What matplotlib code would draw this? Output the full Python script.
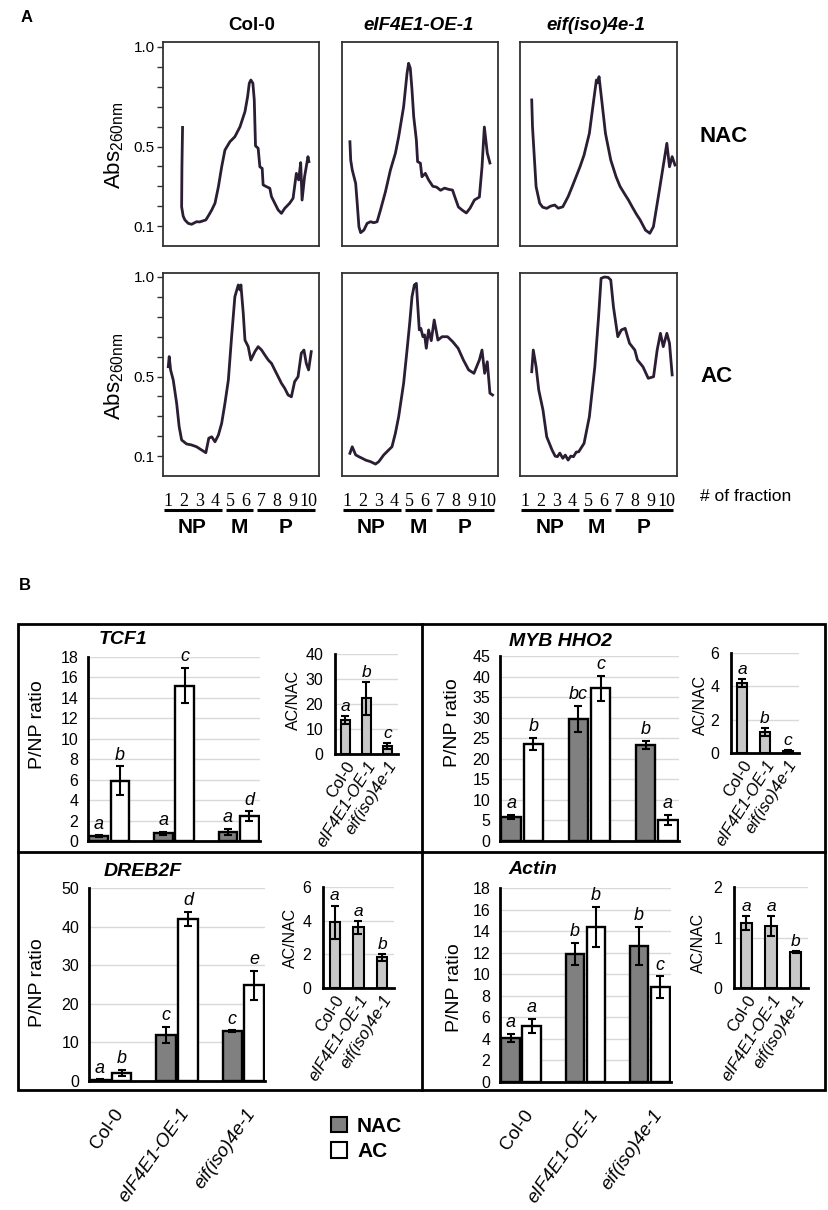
import numpy as np
import matplotlib
matplotlib.use('Agg')
import matplotlib.pyplot as plt
from matplotlib.patches import Patch, Rectangle
from matplotlib.lines import Line2D
from matplotlib.transforms import ScaledTranslation

plt.rcParams['font.family'] = ['Liberation Sans', 'DejaVu Sans']
NARROW = ['Liberation Sans Narrow', 'Liberation Sans', 'DejaVu Sans']

# ---------------- panel A: polysome profiles (fraction, Abs260) ----------------
fraction_labels = ['1', '2', '3', '4', '5', '6', '7', '8', '9', '10']
profile_ticks = [0.1, 0.5, 1.0]
regions = [('NP', 1, 4), ('M', 5, 6), ('P', 7, 10)]
profile_titles = ['Col-0', 'eIF4E1-OE-1', 'eif(iso)4e-1']

col_nac_x = [1.91, 1.87, 1.85, 1.95, 2.06, 2.27, 2.49, 2.81, 3.02, 3.41, 3.60, 3.79, 4.00, 4.22,
             4.43, 4.64, 4.96, 5.28, 5.61, 5.93, 6.10, 6.21, 6.31, 6.44, 6.53, 6.57, 6.61, 6.78,
             6.89, 7.04, 7.10, 7.32, 7.53, 7.64, 7.85, 8.07, 8.28, 8.49, 8.81, 9.03, 9.24, 9.39,
             9.52, 9.61, 9.77, 9.99, 10.05]
col_nac_y = [0.596, 0.40, 0.197, 0.150, 0.131, 0.114, 0.109, 0.122, 0.121, 0.131, 0.155, 0.181,
             0.215, 0.298, 0.398, 0.482, 0.524, 0.549, 0.599, 0.675, 0.750, 0.818, 0.834, 0.818,
             0.734, 0.617, 0.503, 0.491, 0.398, 0.390, 0.307, 0.298, 0.290, 0.248, 0.215, 0.181,
             0.164, 0.189, 0.215, 0.240, 0.365, 0.332, 0.419, 0.231, 0.348, 0.449, 0.424]

oe_nac_x = [1.16, 1.21, 1.31, 1.53, 1.63, 1.74, 1.85, 2.06, 2.27, 2.49, 2.70, 2.91, 3.13, 3.45,
            3.77, 4.09, 4.30, 4.62, 4.84, 4.94, 5.05, 5.16, 5.27, 5.44, 5.52, 5.70, 5.80, 6.02,
            6.23, 6.50, 6.74, 7.00, 7.26, 7.50, 7.77, 7.95, 8.15, 8.40, 8.66, 8.90, 9.18, 9.50,
            9.67, 9.82, 10.01, 10.18]
oe_nac_y = [0.524, 0.432, 0.382, 0.315, 0.215, 0.097, 0.067, 0.080, 0.114, 0.122, 0.117, 0.122,
            0.181, 0.273, 0.382, 0.466, 0.549, 0.700, 0.868, 0.918, 0.893, 0.784, 0.650, 0.533,
            0.424, 0.416, 0.348, 0.365, 0.332, 0.300, 0.296, 0.280, 0.291, 0.285, 0.281, 0.240,
            0.196, 0.180, 0.166, 0.190, 0.231, 0.246, 0.397, 0.598, 0.467, 0.417]

iso_nac_x = [1.40, 1.45, 1.50, 1.68, 1.91, 2.10, 2.36, 2.60, 2.87, 3.10, 3.39, 3.73, 4.00, 4.24,
             4.50, 4.75, 5.09, 5.37, 5.54, 5.62, 5.71, 5.88, 6.12, 6.46, 6.80, 7.05, 7.32, 7.60,
             7.83, 8.10, 8.34, 8.68, 8.96, 9.19, 9.54, 9.88, 10.05, 10.22, 10.39, 10.57]
iso_nac_y = [0.734, 0.600, 0.533, 0.298, 0.215, 0.195, 0.189, 0.200, 0.206, 0.190, 0.197, 0.248,
             0.300, 0.348, 0.400, 0.457, 0.566, 0.734, 0.834, 0.820, 0.851, 0.734, 0.566, 0.432,
             0.348, 0.300, 0.265, 0.230, 0.197, 0.160, 0.131, 0.080, 0.064, 0.097, 0.265, 0.432,
             0.516, 0.398, 0.449, 0.407]

col_ac_x = [0.99, 1.05, 1.14, 1.31, 1.53, 1.69, 1.85, 2.17, 2.49, 2.81, 3.13, 3.41, 3.60, 3.79,
            4.00, 4.22, 4.43, 4.64, 4.86, 5.07, 5.28, 5.50, 5.61, 5.67, 5.82, 5.93, 6.14, 6.31,
            6.57, 6.78, 7.00, 7.21, 7.43, 7.64, 7.85, 8.07, 8.28, 8.49, 8.71, 8.92, 9.13, 9.35,
            9.56, 9.73, 9.88, 10.03, 10.20]
col_ac_y = [0.549, 0.600, 0.533, 0.482, 0.365, 0.248, 0.181, 0.161, 0.156, 0.147, 0.131, 0.117,
            0.190, 0.197, 0.172, 0.206, 0.265, 0.365, 0.482, 0.700, 0.901, 0.960, 0.935, 0.960,
            0.818, 0.683, 0.650, 0.583, 0.625, 0.650, 0.633, 0.608, 0.583, 0.566, 0.533, 0.499,
            0.466, 0.441, 0.407, 0.398, 0.474, 0.499, 0.617, 0.633, 0.566, 0.533, 0.625]

oe_ac_x = [1.16, 1.31, 1.53, 1.74, 1.95, 2.17, 2.49, 2.81, 3.02, 3.34, 3.66, 3.87, 4.09, 4.30,
           4.62, 4.84, 5.01, 5.16, 5.31, 5.44, 5.52, 5.63, 5.73, 5.86, 5.97, 6.08, 6.23, 6.40,
           6.59, 6.83, 7.10, 7.45, 7.78, 8.13, 8.47, 8.81, 9.15, 9.50, 9.67, 9.84, 10.01, 10.18,
           10.35]
oe_ac_y = [0.114, 0.147, 0.106, 0.097, 0.089, 0.080, 0.072, 0.060, 0.072, 0.106, 0.131, 0.147,
           0.215, 0.298, 0.466, 0.633, 0.767, 0.901, 0.960, 0.968, 0.868, 0.734, 0.742, 0.700,
           0.709, 0.642, 0.734, 0.680, 0.784, 0.683, 0.700, 0.700, 0.675, 0.642, 0.583, 0.533,
           0.516, 0.583, 0.633, 0.516, 0.574, 0.416, 0.407]

iso_ac_x = [1.40, 1.50, 1.68, 1.85, 2.12, 2.36, 2.70, 2.90, 3.04, 3.20, 3.39, 3.55, 3.73, 3.90,
            4.07, 4.25, 4.41, 4.75, 5.09, 5.44, 5.68, 5.84, 6.05, 6.29, 6.46, 6.63, 6.91, 7.14,
            7.38, 7.66, 8.00, 8.17, 8.52, 8.86, 9.20, 9.43, 9.64, 9.82, 10.05, 10.22, 10.39]
iso_ac_y = [0.524, 0.633, 0.549, 0.432, 0.332, 0.197, 0.131, 0.100, 0.097, 0.115, 0.089, 0.105,
            0.080, 0.100, 0.097, 0.120, 0.122, 0.164, 0.298, 0.549, 0.801, 0.993, 1.000, 0.998,
            0.985, 0.851, 0.700, 0.734, 0.742, 0.667, 0.633, 0.583, 0.549, 0.491, 0.499, 0.633,
            0.717, 0.650, 0.717, 0.667, 0.508]

# ---------------- panel B: P/NP ratios and AC/NAC ----------------
genotypes = ['Col-0', 'eIF4E1-OE-1', 'eif(iso)4e-1']

tcf1_nac, tcf1_nac_err = [0.45, 0.75, 0.85], [0.1, 0.15, 0.3]
tcf1_ac, tcf1_ac_err = [5.9, 15.2, 2.45], [1.4, 1.7, 0.45]
tcf1_ratio, tcf1_ratio_err = [13.5, 22.3, 3.2], [1.6, 6.5, 1.1]
tcf1_letters = (['a', 'a', 'a'], ['b', 'c', 'd'], ['a', 'b', 'c'])

myb_nac, myb_nac_err = [5.8, 29.6, 23.4], [0.5, 3.2, 0.9]
myb_ac, myb_ac_err = [23.6, 37.1, 5.1], [1.5, 3.0, 1.3]
myb_ratio, myb_ratio_err = [4.2, 1.26, 0.14], [0.25, 0.22, 0.05]
myb_letters = (['a', 'bc', 'b'], ['b', 'c', 'a'], ['a', 'b', 'c'])

dreb_nac, dreb_nac_err = [0.3, 12.0, 12.9], [0.1, 2.1, 0.2]
dreb_ac, dreb_ac_err = [2.1, 42.0, 24.8], [0.8, 1.8, 3.7]
dreb_ratio, dreb_ratio_err = [3.9, 3.6, 1.83], [1.0, 0.4, 0.2]
dreb_letters = (['a', 'c', 'c'], ['b', 'd', 'e'], ['a', 'a', 'b'])

actin_nac, actin_nac_err = [4.1, 11.9, 12.65], [0.35, 1.0, 1.75]
actin_ac, actin_ac_err = [5.2, 14.4, 8.8], [0.65, 1.85, 1.0]
actin_ratio, actin_ratio_err = [1.28, 1.22, 0.71], [0.14, 0.2, 0.02]
actin_letters = (['a', 'b', 'b'], ['a', 'b', 'c'], ['a', 'a', 'b'])

W, H = 829, 1210
fig = plt.figure(figsize=(W / 100, H / 100), dpi=100)


def px(x0, y0, x1, y1):
    return [x0 / W, 1 - y1 / H, (x1 - x0) / W, (y1 - y0) / H]


# ---------- panel A ----------
fig.text(21 / W, 1 - 18 / H, 'A', fontsize=12, fontweight='bold', va='center')
title_x = [252, 419, 596]
for t, tx in zip(profile_titles, title_x):
    fig.text(tx / W, 1 - 25 / H, t, fontsize=13.5, fontweight='bold', ha='center', va='center',
             style='normal' if t == 'Col-0' else 'italic')

lefts, rights = [163, 342, 520], [319, 498, 677]
rows = [(42, 246, [(col_nac_x, col_nac_y), (oe_nac_x, oe_nac_y), (iso_nac_x, iso_nac_y)], 'NAC', 137),
        (273, 476, [(col_ac_x, col_ac_y), (oe_ac_x, oe_ac_y), (iso_ac_x, iso_ac_y)], 'AC', 377)]
for r, (top, bot, curves, cond, ly) in enumerate(rows):
    for c in range(3):
        ax = fig.add_axes(px(lefts[c], top, rights[c], bot))
        ax.plot(curves[c][0], curves[c][1], color='#2b1d33', lw=2)
        ax.set_xlim(0.65, 10.7)
        ax.set_ylim(0, (bot - top) / 199)
        for s in ax.spines.values():
            s.set_color('#333333')
            s.set_linewidth(1.3)
        if c == 0:
            ax.set_yticks(profile_ticks)
            ax.set_yticklabels(['0.1', '0.5', '1.0'], family=NARROW, fontsize=11)
            ax.set_yticks(np.arange(0.2, 1.0, 0.1), minor=True)
            ax.tick_params(axis='y', which='both', direction='out', length=4, width=1, pad=2,
                           color='#333333')
        else:
            ax.set_yticks([])
        if r == 1:
            ax.set_xticks(range(1, 11))
            ax.set_xticklabels(fraction_labels, family=['Liberation Serif', 'DejaVu Serif'],
                               fontsize=13)
            ax.tick_params(axis='x', length=0, pad=12)
            tr = ax.get_xaxis_transform()
            for name, a, b in regions:
                ax.plot([a - 0.3, b + 0.45], [-0.168, -0.168], transform=tr, color='black',
                        lw=2.2, clip_on=False, solid_capstyle='butt')
                ax.text((a + b) / 2 + 0.05, -0.255, name, transform=tr, ha='center',
                        va='center', fontsize=15, fontweight='bold')
        else:
            ax.set_xticks([])
    fig.text(114 / W, 1 - (top + 103) / H, r'Abs$_{\mathregular{260nm}}$', fontsize=16,
             rotation=90, ha='center', va='center')
    fig.text(700 / W, 1 - ly / H, cond, fontsize=16, fontweight='bold', va='center', ha='left')

fig.text(700 / W, 1 - 496 / H, '# of fraction', fontsize=12.5, va='center', ha='left')

# ---------- panel B ----------
fig.text(19 / W, 1 - 585 / H, 'B', fontsize=12, fontweight='bold', va='center')
frame = dict(transform=fig.transFigure, color='black', lw=2)
fig.add_artist(Rectangle((18 / W, 1 - 1090 / H), (825 - 18) / W, (1090 - 624) / H,
                         fill=False, ec='black', lw=2, transform=fig.transFigure))
fig.add_artist(Line2D([422 / W, 422 / W], [1 - 624 / H, 1 - 1090 / H], **frame))
fig.add_artist(Line2D([18 / W, 825 / W], [1 - 852 / H, 1 - 852 / H], **frame))

ekw = dict(ecolor='black', elinewidth=1.5, capsize=3, capthick=1.5)


def style_axes(ax):
    for s in ['top', 'right']:
        ax.spines[s].set_visible(False)
    for s in ['left', 'bottom']:
        ax.spines[s].set_linewidth(2)
        ax.spines[s].set_color('black')
    ax.yaxis.grid(True, color='#d9d9d9', lw=1)
    ax.set_axisbelow(True)


def rotate_labels(ax, rot, dx_px, size):
    ax.set_xticklabels(genotypes, rotation=rot, ha='right', va='center',
                       rotation_mode='anchor', fontsize=size)
    for lab in ax.get_xticklabels():
        if lab.get_text() != 'Col-0':
            lab.set_style('italic')
        lab.set_transform(lab.get_transform() + ScaledTranslation(dx_px / 100, 0, fig.dpi_scale_trans))


def main_chart(rect, nac, nac_err, ac, ac_err, letters, ymax, step, title, title_xy, ylab_xy,
               show_x):
    ax = fig.add_axes(px(*rect))
    x = np.arange(len(genotypes))
    ax.bar(x - 0.165, nac, 0.29, yerr=nac_err, color='#808080', edgecolor='black',
           linewidth=1.7, error_kw=ekw, zorder=3)
    ax.bar(x + 0.165, ac, 0.29, yerr=ac_err, color='white', edgecolor='black',
           linewidth=1.7, error_kw=ekw, zorder=3)
    for i in range(len(x)):
        ax.annotate(letters[0][i], (x[i] - 0.165, nac[i] + nac_err[i]), xytext=(0, 2),
                    textcoords='offset points', ha='center', va='bottom', style='italic',
                    fontsize=13)
        ax.annotate(letters[1][i], (x[i] + 0.165, ac[i] + ac_err[i]), xytext=(0, 2),
                    textcoords='offset points', ha='center', va='bottom', style='italic',
                    fontsize=13)
    ax.set_xlim(-0.33, 2.33)
    ax.set_ylim(0, ymax)
    ax.set_yticks(np.arange(0, ymax + step / 2, step))
    ax.tick_params(length=0, labelsize=11.5)
    ax.tick_params(axis='y', pad=7)
    style_axes(ax)
    ax.set_xticks(x)
    if show_x:
        ax.tick_params(axis='x', pad=21)
        rotate_labels(ax, 55, 9, 13.5)
    else:
        ax.set_xticklabels([])
    fig.text(title_xy[0] / W, 1 - title_xy[1] / H, title, fontsize=14, fontweight='bold',
             style='italic', ha='center', va='center')
    fig.text(ylab_xy[0] / W, 1 - ylab_xy[1] / H, 'P/NP ratio', fontsize=14, rotation=90,
             ha='center', va='center')


def inset_chart(rect, ratio, ratio_err, letters, ymax, step, ylab_xy):
    ax = fig.add_axes(px(*rect))
    x = np.arange(len(genotypes))
    ax.bar(x, ratio, 0.45, yerr=ratio_err, color='#c8c8c8', edgecolor='black', linewidth=1.5,
           error_kw=ekw, zorder=3)
    for i in range(len(x)):
        ax.annotate(letters[i], (x[i], ratio[i] + ratio_err[i]), xytext=(0, 1.5),
                    textcoords='offset points', ha='center', va='bottom', style='italic',
                    fontsize=12.5)
    ax.set_xlim(-0.5, 2.5)
    ax.set_ylim(0, ymax)
    ax.set_yticks(np.arange(0, ymax + step / 2, step))
    ax.tick_params(length=0, labelsize=11.5)
    ax.tick_params(axis='y', pad=8.5)
    style_axes(ax)
    ax.set_xticks(x)
    ax.tick_params(axis='x', pad=6)
    rotate_labels(ax, 58, 6, 12)
    fig.text(ylab_xy[0] / W, 1 - ylab_xy[1] / H, 'AC/NAC', fontsize=11.5, rotation=90,
             ha='center', va='center')


main_chart((88, 657, 260, 841), tcf1_nac, tcf1_nac_err, tcf1_ac, tcf1_ac_err, tcf1_letters,
           18, 2, 'TCF1', (123, 640), (37, 725), False)
inset_chart((335, 654, 398, 754), tcf1_ratio, tcf1_ratio_err, tcf1_letters[2], 40, 10, (293, 700))

main_chart((500, 656, 679, 841), myb_nac, myb_nac_err, myb_ac, myb_ac_err, myb_letters,
           45, 5, 'MYB HHO2', (561, 642), (453, 723), False)
inset_chart((731, 653, 799, 753), myb_ratio, myb_ratio_err, myb_letters[2], 6, 2, (700, 705))

main_chart((89, 888, 265, 1081), dreb_nac, dreb_nac_err, dreb_ac, dreb_ac_err, dreb_letters,
           50, 10, 'DREB2F', (143, 871), (37, 983), True)
inset_chart((323, 887, 394, 988), dreb_ratio, dreb_ratio_err, dreb_letters[2], 6, 2, (290, 938))

main_chart((500, 888, 671, 1082), actin_nac, actin_nac_err, actin_ac, actin_ac_err, actin_letters,
           18, 2, 'Actin', (533, 870), (455, 988), True)
inset_chart((734, 887, 808, 988), actin_ratio, actin_ratio_err, actin_letters[2], 2, 1, (698, 943))

handles = [Patch(facecolor='#808080', edgecolor='black', lw=1.5),
           Patch(facecolor='white', edgecolor='black', lw=1.5)]
fig.legend(handles, ['NAC', 'AC'], loc='upper left', bbox_to_anchor=(331 / W, 1 - 1117 / H),
           frameon=False, prop=dict(weight='bold', size=15), handlelength=0.75,
           handleheight=0.75, handletextpad=0.5, labelspacing=0.3, borderpad=0,
           borderaxespad=0)

fig.savefig('out.png', dpi=100)
